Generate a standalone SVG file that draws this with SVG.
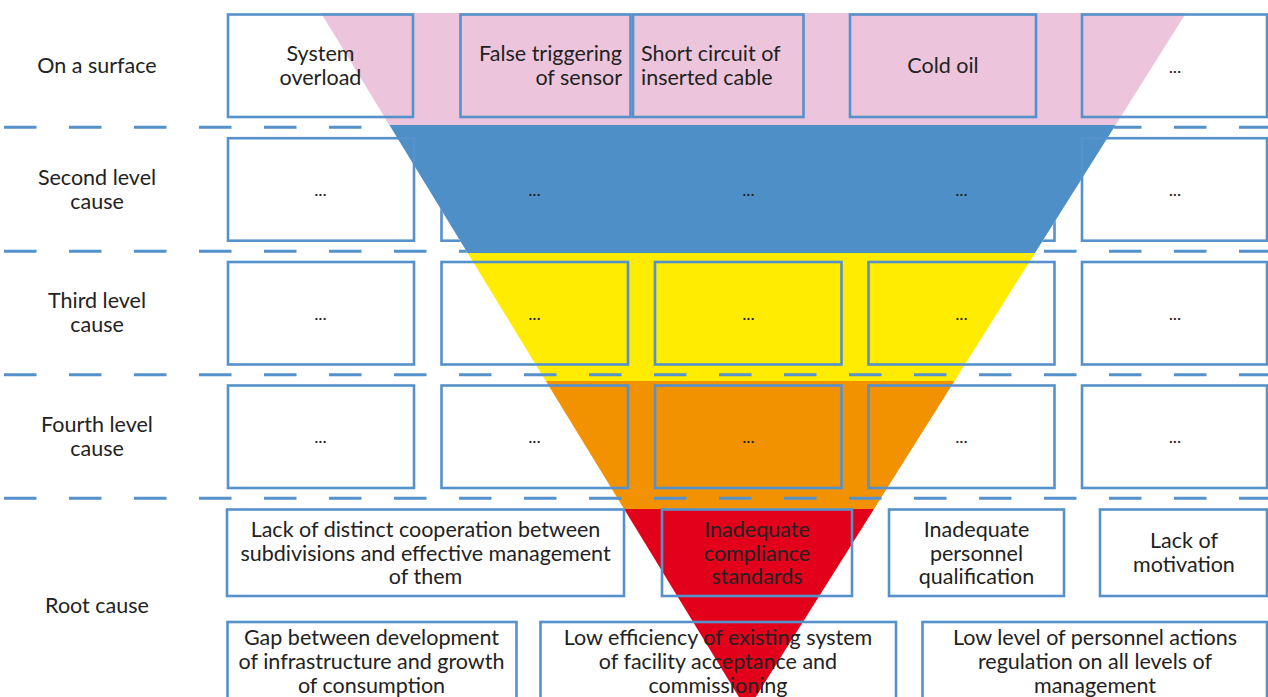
<svg xmlns="http://www.w3.org/2000/svg" width="1268" height="697" viewBox="0 0 1268 697">
  <style>
    .box { fill: none; stroke: #5591CA; stroke-width: 2.6; }
    .sep { fill: none; stroke: #5591CA; stroke-width: 3; stroke-dasharray: 32.5 32.5; }
    text { font-family: "Lato", "Liberation Sans", sans-serif; font-size: 21.5px; font-weight: 400; fill: #222; text-anchor: middle; }
    .dots { font-size: 18px; }
    .end { text-anchor: end; }
    .start { text-anchor: start; }
  </style>
  <defs>
    <!-- the blue band sits above the second-row frames and separators -->
    <mask id="underBlue" maskUnits="userSpaceOnUse" x="0" y="0" width="1268" height="697">
      <rect x="0" y="0" width="1268" height="697" fill="#fff"/>
      <polygon points="389.4,125 1115.6,125 1035,253 467.6,253" fill="#000"/>
    </mask>
  </defs>
  <rect width="1268" height="697" fill="#fff"/>

  <!-- inverted funnel, one band per cause level -->
  <g id="funnel">
    <polygon points="321,13 1186,13 1115.6,125 389.4,125" fill="#ECC5DC"/>
    <polygon points="389.4,125 1115.6,125 1035,253 467.6,253" fill="#4F8FC8"/>
    <polygon points="467.6,253 1035,253 954.5,381 545.8,381" fill="#FFEC00"/>
    <polygon points="545.8,381 954.5,381 874,509 624.1,509" fill="#F39200"/>
    <polygon points="624.1,509 874,509 747.2,710.6" fill="#E2001A"/>
  </g>

  <!-- level separators -->
  <g id="connectors" mask="url(#underBlue)">
    <line class="sep" x1="4" y1="127.3" x2="1268" y2="127.3"/>
    <line class="sep" x1="4" y1="251.3" x2="1268" y2="251.3"/>
    <line class="sep" x1="4" y1="374.7" x2="1268" y2="374.7"/>
    <line class="sep" x1="4" y1="498.3" x2="1268" y2="498.3"/>
  </g>

  <!-- row labels -->
  <g id="label-surface"><text x="97" y="73">On a surface</text></g>
  <g id="label-second"><text x="97" y="185">Second level</text><text x="97" y="209">cause</text></g>
  <g id="label-third"><text x="97" y="308">Third level</text><text x="97" y="332">cause</text></g>
  <g id="label-fourth"><text x="97" y="432">Fourth level</text><text x="97" y="456">cause</text></g>
  <g id="label-root"><text x="97" y="613">Root cause</text></g>

  <!-- row 1: on a surface -->
  <g id="s1"><rect class="box" x="228" y="14.5" width="185" height="102.5"/><text x="320.5" y="61">System</text><text x="320.5" y="85">overload</text></g>
  <g id="s2"><rect class="box" x="460.5" y="14.5" width="170" height="102.5"/><text class="end" x="622" y="61">False triggering</text><text class="end" x="622" y="85">of sensor</text></g>
  <g id="s3"><rect class="box" x="633" y="14.5" width="170.5" height="102.5"/><text class="start" x="641" y="61">Short circuit of</text><text class="start" x="641" y="85">inserted cable</text></g>
  <g id="s4"><rect class="box" x="850" y="14.5" width="186" height="102.5"/><text x="943" y="73">Cold oil</text></g>
  <g id="s5"><rect class="box" x="1082" y="14.5" width="185" height="102.5"/><text class="dots" x="1175" y="73">...</text></g>

  <!-- row 2: second level -->
  <g id="l2-1"><rect class="box" x="228" y="138.2" width="186" height="102.5"/><text class="dots" x="320.5" y="196">...</text></g>
  <g id="l2-2"><rect class="box" x="441.5" y="138.2" width="186.5" height="102.5" mask="url(#underBlue)"/><text class="dots" x="534.5" y="196">...</text></g>
  <g id="l2-3"><rect class="box" x="655" y="138.2" width="186.5" height="102.5" mask="url(#underBlue)"/><text class="dots" x="748.5" y="196">...</text></g>
  <g id="l2-4"><rect class="box" x="868.5" y="138.2" width="186" height="102.5" mask="url(#underBlue)"/><text class="dots" x="961.5" y="196">...</text></g>
  <g id="l2-5"><rect class="box" x="1082" y="138.2" width="185" height="102.5"/><text class="dots" x="1175" y="196">...</text></g>

  <!-- row 3: third level -->
  <g id="l3-1"><rect class="box" x="228" y="262" width="186" height="102.5"/><text class="dots" x="320.5" y="320">...</text></g>
  <g id="l3-2"><rect class="box" x="441.5" y="262" width="186.5" height="102.5"/><text class="dots" x="534.5" y="320">...</text></g>
  <g id="l3-3"><rect class="box" x="655" y="262" width="186.5" height="102.5"/><text class="dots" x="748.5" y="320">...</text></g>
  <g id="l3-4"><rect class="box" x="868.5" y="262" width="186" height="102.5"/><text class="dots" x="961.5" y="320">...</text></g>
  <g id="l3-5"><rect class="box" x="1082" y="262" width="185" height="102.5"/><text class="dots" x="1175" y="320">...</text></g>

  <!-- row 4: fourth level -->
  <g id="l4-1"><rect class="box" x="228" y="385.5" width="186" height="102.5"/><text class="dots" x="320.5" y="443">...</text></g>
  <g id="l4-2"><rect class="box" x="441.5" y="385.5" width="186.5" height="102.5"/><text class="dots" x="534.5" y="443">...</text></g>
  <g id="l4-3"><rect class="box" x="655" y="385.5" width="186.5" height="102.5"/><text class="dots" x="748.5" y="443">...</text></g>
  <g id="l4-4"><rect class="box" x="868.5" y="385.5" width="186" height="102.5"/><text class="dots" x="961.5" y="443">...</text></g>
  <g id="l4-5"><rect class="box" x="1082" y="385.5" width="185" height="102.5"/><text class="dots" x="1175" y="443">...</text></g>

  <!-- root causes -->
  <g id="r1"><rect class="box" x="227" y="509.5" width="397" height="86.5"/><text x="425.5" y="537">Lack of distinct cooperation between</text><text x="425.5" y="560.5">subdivisions and effective management</text><text x="425.5" y="584">of them</text></g>
  <g id="r2"><rect class="box" x="662" y="509.5" width="190" height="86.5"/><text x="757" y="537">Inadequate</text><text x="757" y="560.5">compliance</text><text x="757" y="584">standards</text></g>
  <g id="r3"><rect class="box" x="889" y="509.5" width="175" height="86.5"/><text x="976.5" y="537">Inadequate</text><text x="976.5" y="560.5">personnel</text><text x="976.5" y="584">qualification</text></g>
  <g id="r4"><rect class="box" x="1100" y="509.5" width="167" height="86.5"/><text x="1184" y="548">Lack of</text><text x="1184" y="572">motivation</text></g>
  <g id="r5"><rect class="box" x="227.5" y="622" width="289" height="90"/><text x="371.5" y="645">Gap between development</text><text x="371.5" y="669">of infrastructure and growth</text><text x="371.5" y="693">of consumption</text></g>
  <g id="r6"><rect class="box" x="540.5" y="622" width="355.5" height="90"/><text x="718" y="645">Low efficiency of existing system</text><text x="718" y="669">of facility acceptance and</text><text x="718" y="693">commissioning</text></g>
  <g id="r7"><rect class="box" x="922.5" y="622" width="344.5" height="90"/><text x="1095" y="645">Low level of personnel actions</text><text x="1095" y="669">regulation on all levels of</text><text x="1095" y="693">management</text></g>
</svg>
